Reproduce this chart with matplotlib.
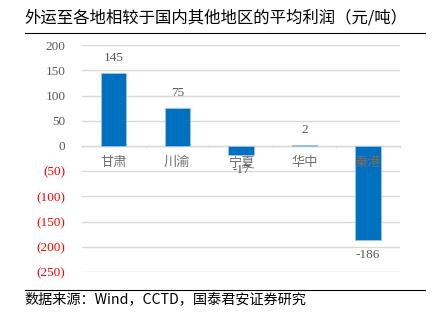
import matplotlib.pyplot as plt
from matplotlib.ticker import FuncFormatter

# 各地区平均利润（元/吨）
regions = ['甘肃', '川渝', '宁夏', '华中', '秦港']
profits = [145, 75, -17, 2, -186]
yticks = [-250, -200, -150, -100, -50, 0, 50, 100, 150, 200]

title = '外运至各地相较于国内其他地区的平均利润（元/吨）'
source = '数据来源：Wind，CCTD，国泰君安证券研究'

cjk = ['Noto Sans CJK SC', 'DejaVu Sans']
serif = ['Liberation Serif', 'DejaVu Serif']
grey = '#595959'
blue = '#0070C0'

fig = plt.figure(figsize=(4.36, 3.22), dpi=100)
ax = fig.add_axes([0.188, 0.155, 0.729, 0.705])

x = list(range(len(regions)))
ax.bar(x, profits, width=0.4, color=blue, edgecolor='#9DC3E6', linewidth=0.6, zorder=3)

ax.set_xlim(-0.5, len(regions) - 0.5)
ax.set_ylim(-250, 200)
ax.set_yticks(yticks)
ax.yaxis.set_major_formatter(FuncFormatter(
    lambda v, _: f'({abs(int(v))})' if v < 0 else f'{int(v)}'))
for lab, v in zip(ax.get_yticklabels(), yticks):
    lab.set_color('red' if v < 0 else grey)
    lab.set_fontfamily(serif)
    lab.set_fontsize(9.5)
ax.tick_params(axis='y', length=0, pad=12)
ax.grid(axis='y', color='#D9D9D9', linewidth=1, zorder=0)

for s in ['left', 'right', 'top', 'bottom']:
    ax.spines[s].set_visible(False)
ax.axhline(0, color='#D9D9D9', linewidth=1, zorder=2)

# 分类刻度放在零线上
ax.set_xticks([])
for b in [i - 0.5 for i in range(len(regions) + 1)]:
    ax.plot([b, b], [0, -3], color='#D9D9D9', linewidth=1, zorder=2, clip_on=False)
for xi, name in zip(x, regions):
    ax.annotate(name, (xi, 0), xytext=(0, -12), textcoords='offset points',
                ha='center', va='center', fontsize=9.5,
                color='#7F6A5A' if name == '秦港' else '#6E6E6E',
                family=cjk, zorder=4)

# 数据标签
for xi, v in zip(x, profits):
    off = 11 if v >= 0 else -11
    ax.annotate(f'{v}', (xi, v), xytext=(0, off), textcoords='offset points',
                ha='center', va='center', fontsize=9.5, color=grey,
                family=serif, zorder=5)

fig.text(0.057, 0.944, title, fontsize=11.8, family=cjk, color='black',
         ha='left', va='center', fontweight='medium')
fig.add_artist(plt.Line2D([0.057, 0.975], [0.898, 0.898], color='black', linewidth=0.8))
fig.add_artist(plt.Line2D([0.057, 0.975], [0.099, 0.099], color='black', linewidth=0.8))
fig.text(0.057, 0.068, source, fontsize=10.2, family=cjk, color='black',
         ha='left', va='center')

fig.savefig('out.png', dpi=100)
